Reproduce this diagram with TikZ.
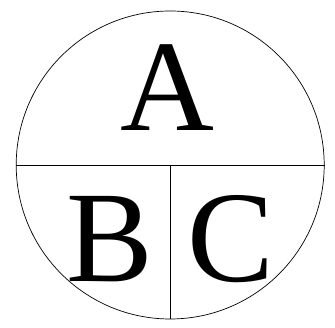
\documentclass[tikz,border=0pt]{standalone}
\usepackage{fontspec}
\setmainfont{Liberation Serif}
\usetikzlibrary{calc}

\begin{document}
\begin{tikzpicture}[x=1pt,y=1pt,
  letter/.style={anchor=base, inner sep=0pt, font=\fontsize{130}{130}\selectfont}]
  \useasboundingbox (0,0) rectangle (335,328);

  %--- disc and dividing lines ---
  \node[draw, circle, line width=0.7pt, minimum size=308pt, inner sep=0pt] (disc) at (170.2,163) {};
  \draw[line width=0.7pt] (disc.west) -- (disc.east);
  \draw[line width=0.7pt] (disc.center) -- (disc.south);

  %--- letters ---
  \node[letter] (A) at (167,197) {A};
  \node[letter] (B) at (110,46) {B};
  \node[letter] (C) at (231,46) {C};

\end{tikzpicture}
\end{document}
